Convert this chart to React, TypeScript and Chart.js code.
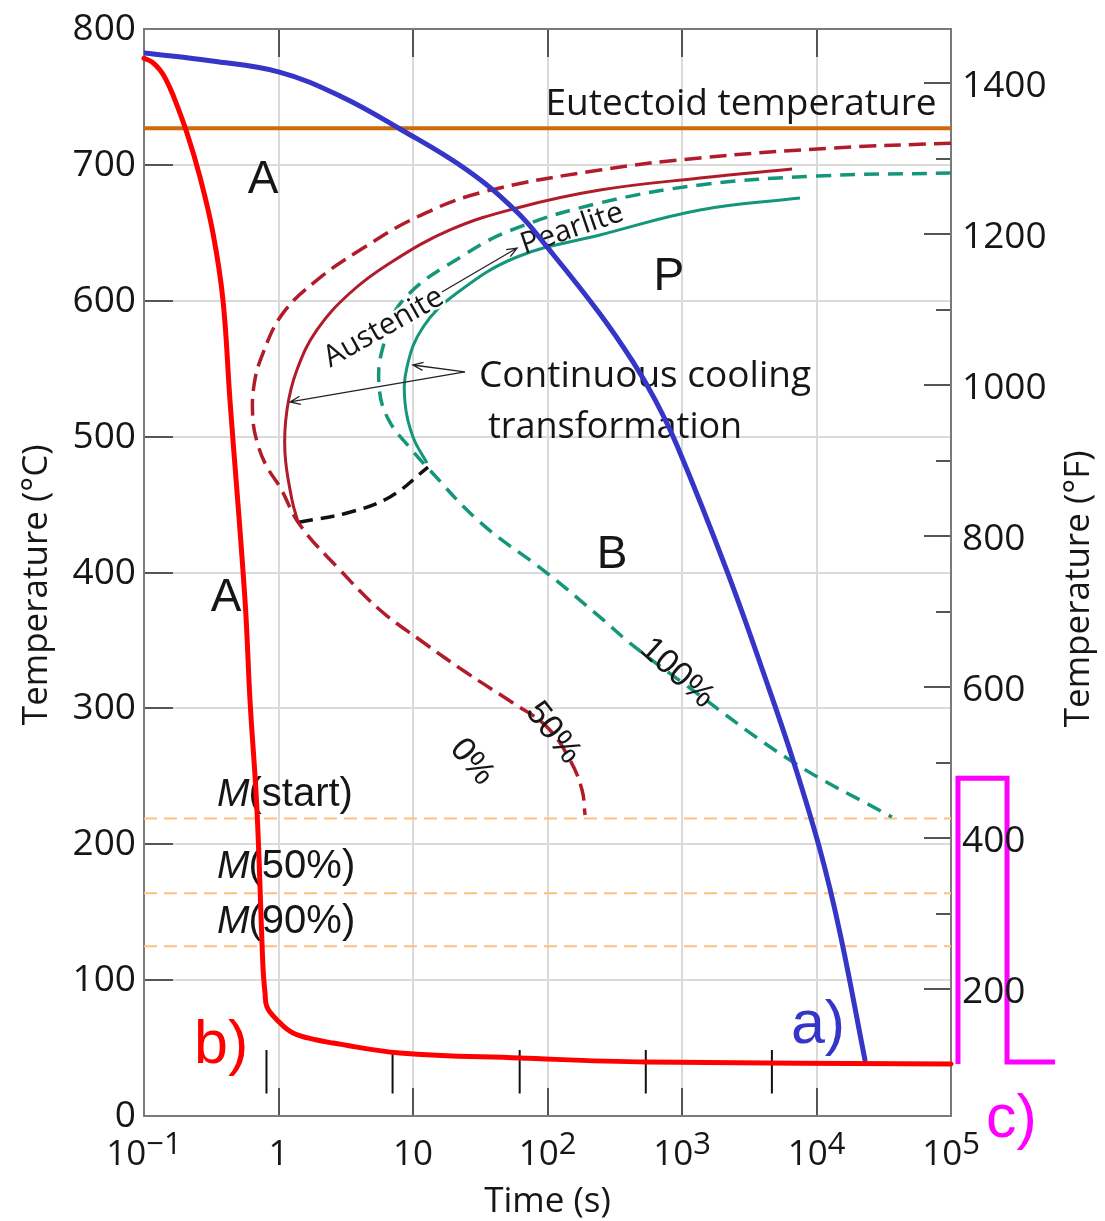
import React, { useEffect, useRef } from "react";
import { Chart, registerables } from "chart.js";

Chart.register(...registerables);

const W = 1105;
const H = 1221;

// ---------- axes ----------
const timeMin = 0.1;
const timeMax = 1e5;
const tempMin = 0;
const tempMax = 800;
const timeDecades = [0.1, 1, 10, 100, 1000, 10000, 100000];
const timeTickBase = ["10", "1", "10", "10", "10", "10", "10"];
const timeTickExp = ["\u22121", "", "", "2", "3", "4", "5"];
const celsiusTicks = [0, 100, 200, 300, 400, 500, 600, 700, 800];
const fahrenheitMajor = [200, 400, 600, 800, 1000, 1200, 1400];
const fahrenheitMinor = [100, 300, 500, 700, 900, 1100, 1300];

// ---------- curve a) (slow cooling, blue) ----------
const aTime = [0.1, 0.3206, 1.0, 2.866, 8.006, 25.2, 59.3, 99.2, 245.7, 432.3, 630, 918, 2161, 4285, 6688, 10620, 14950, 22940];
const aTemp = [782.3, 776.4, 768.4, 750.7, 726.4, 696.2, 665.3, 639.6, 590.3, 555.0, 527.2, 493.4, 401.0, 318.7, 262.0, 195.8, 134.7, 41.2];

// ---------- curve b) (quench, red) ----------
const bTime = [0.1, 0.1147, 0.1315, 0.1457, 0.1643, 0.2089, 0.2609, 0.3258, 0.3866, 0.4357, 0.5636, 0.6138, 0.6918, 0.7667, 0.7943, 0.821, 0.975, 1.282, 1.93, 2.543, 8.0, 62.5, 549, 100000, 112700];
const bTemp = [778.5, 775.7, 769.8, 762.8, 751.4, 723.3, 690.9, 649.7, 600.4, 526.9, 379.7, 306.1, 225.2, 109.6, 90.5, 80.2, 70.7, 61.1, 55.9, 53.7, 46.4, 42.7, 39.7, 38.3, 38.3];

// ---------- c) bracket (magenta) ----------
const cTime = [594000, 261000, 261000, 112700, 112700];
const cTemp = [39.7, 39.7, 248.5, 248.5, 38.3];

// ---------- transformation curves ----------
const startOuterTime = [100000, 13270, 1361, 245.6, 33.1, 10.7, 4.04, 1.93, 1.08, 0.767, 0.658, 0.646, 0.704, 0.821, 1.026, 1.445, 2.867, 5.68, 11.27, 25.2, 55.4, 99.1, 147, 180.6, 190.2];
const startOuterTemp = [716, 712.4, 705.1, 696.2, 680, 661.6, 637.3, 615.2, 590.9, 561.5, 538, 512.2, 493.8, 477.6, 462.9, 434.9, 401.8, 372.4, 350.3, 326, 304, 286.3, 262, 239.9, 221.5];

const startCctTime = [6577, 1361, 245.6, 59.3, 18.84, 6.75, 3.4, 1.93, 1.37, 1.156, 1.117, 1.26, 1.396];
const startCctTemp = [697, 690.3, 681.5, 668.3, 652.1, 627.8, 605.7, 578.5, 549, 519.6, 488, 453.4, 437.2];

const finishOuterTime = [100000, 10090, 1361, 245.6, 59.3, 25.2, 8.43, 5.98, 5.6, 6.6, 9.8, 12.7, 31.5, 99.1, 245.6, 410, 1016, 6686, 36400];
const finishOuterTemp = [694, 691.8, 685.2, 672, 653.6, 635.1, 600.5, 566, 536.5, 512.2, 490.2, 477.6, 437, 399.6, 367.2, 348.1, 318.7, 260.5, 220];

const finishCctTime = [7540, 1361, 245.6, 59.3, 21.2, 11.9, 9.02, 8.73, 10.0, 12.7];
const finishCctTemp = [675.6, 666.8, 648.4, 632.2, 605.7, 580.7, 551.2, 524.7, 499.7, 480.6];

const bainiteLinkTime = [1.42, 3.23, 6.75, 12.94];
const bainiteLinkTemp = [437, 443.8, 455.6, 477.6];

// ---------- horizontal reference temperatures ----------
const eutectoidTemp = 727;
const martensiteTemps = [219, 164, 125];
const martensiteNames = ["(start)", "(50%)", "(90%)"];
const martensiteLabelTemps = [228.2, 175.2, 134.7];

// ---------- small marks on curve b ----------
const markTimes = [0.814, 7.05, 62.1, 538, 4660];
const markTemps = [48.5, 16.5];

const pts = (xs: number[], ys: number[]) => xs.map((x, i) => ({ x, y: ys[i] }));

const RED = "#ff0000";
const BLUE = "#3535c8";
const MAGENTA = "#ff00ff";
const DARKRED = "#b01c2a";
const GREEN = "#14967a";
const ORANGE = "#cf6a0a";
const MLINE = "#ffbf7f";
const TEXT = "#161616";

const OPEN = '"Open Sans", "DejaVu Sans", sans-serif';
const ARIAL = '"Liberation Sans", Arial, sans-serif';

type Ann = { text: string; t: number; T: number; font: string; align?: CanvasTextAlign; rot?: number; base?: CanvasTextBaseline; halo?: boolean };
const annotations: Ann[] = [
  { text: "Eutectoid temperature", t: 2750, T: 736.7, font: `37px ${OPEN}` },
  { text: "A", t: 0.767, T: 679.3, font: `46px ${ARIAL}` },
  { text: "A", t: 0.407, T: 371.7, font: `46px ${ARIAL}` },
  { text: "P", t: 800, T: 607.9, font: `46px ${ARIAL}` },
  { text: "B", t: 302, T: 403.3, font: `46px ${ARIAL}` },
  { text: "Continuous cooling", t: 531, T: 536.5, font: `37px ${OPEN}` },
  { text: "transformation", t: 318, T: 499, font: `36px ${OPEN}` },
  { text: "Austenite", t: 6.52, T: 574.8, font: `30px ${OPEN}`, rot: -29.5, halo: true },
  { text: "Pearlite", t: 160, T: 646.9, font: `30px ${OPEN}`, rot: -19 },
  { text: "0%", t: 27.4, T: 260.5, font: `34px ${ARIAL}`, rot: 50, base: "middle" },
  { text: "50%", t: 110, T: 281.9, font: `34px ${ARIAL}`, rot: 52, base: "middle" },
  { text: "100%", t: 918, T: 326, font: `34px ${ARIAL}`, rot: 42, base: "middle" },
];

const arrows = [
  { from: [16.4, 606.4], to: [59.4, 638.8] },
  { from: [24.3, 547.6], to: [1.22, 525.5] },
  { from: [24.3, 547.6], to: [9.98, 552.7] },
];

const BLUE_INDEX = 2;

function drawArrow(ctx: CanvasRenderingContext2D, x1: number, y1: number, x2: number, y2: number) {
  ctx.save();
  ctx.strokeStyle = "#222";
  ctx.lineWidth = 1.3;
  ctx.beginPath();
  ctx.moveTo(x1, y1);
  ctx.lineTo(x2, y2);
  const a = Math.atan2(y2 - y1, x2 - x1);
  const L = 11;
  const s = 0.38;
  ctx.moveTo(x2 - L * Math.cos(a - s), y2 - L * Math.sin(a - s));
  ctx.lineTo(x2, y2);
  ctx.lineTo(x2 - L * Math.cos(a + s), y2 - L * Math.sin(a + s));
  ctx.stroke();
  ctx.restore();
}

const decor = {
  id: "decor",
  beforeDatasetsDraw(chart: any) {
    const { ctx, chartArea: ca, scales } = chart;
    const x = scales.x;
    const y = scales.y;
    const yF = scales.yF;
    ctx.save();
    ctx.strokeStyle = "#dadada";
    ctx.lineWidth = 2;
    ctx.beginPath();
    timeDecades.slice(1, -1).forEach((v) => {
      const px = Math.round(x.getPixelForValue(v));
      ctx.moveTo(px, ca.top);
      ctx.lineTo(px, ca.bottom);
    });
    celsiusTicks.slice(1, -1).forEach((v) => {
      const py = Math.round(y.getPixelForValue(v));
      ctx.moveTo(ca.left, py);
      ctx.lineTo(ca.right, py);
    });
    ctx.stroke();
    ctx.strokeStyle = "#555";
    ctx.lineWidth = 2;
    ctx.beginPath();
    celsiusTicks.forEach((v) => {
      const py = Math.round(y.getPixelForValue(v));
      ctx.moveTo(ca.left, py);
      ctx.lineTo(ca.left + 29, py);
    });
    timeDecades.forEach((v) => {
      const px = Math.round(x.getPixelForValue(v));
      ctx.moveTo(px, ca.top);
      ctx.lineTo(px, ca.top + 28);
      ctx.moveTo(px, ca.bottom);
      ctx.lineTo(px, ca.bottom - 28);
    });
    fahrenheitMajor.forEach((v) => {
      const py = Math.round(yF.getPixelForValue(v));
      ctx.moveTo(ca.right, py);
      ctx.lineTo(ca.right - 27, py);
    });
    fahrenheitMinor.forEach((v) => {
      const py = Math.round(yF.getPixelForValue(v));
      ctx.moveTo(ca.right, py);
      ctx.lineTo(ca.right - 15, py);
    });
    ctx.stroke();
    ctx.strokeStyle = "#7a7a7a";
    ctx.lineWidth = 2;
    ctx.strokeRect(ca.left, ca.top, ca.right - ca.left, ca.bottom - ca.top);
    ctx.restore();
  },
  beforeDatasetDraw(chart: any, args: any) {
    if (args.index !== BLUE_INDEX) return;
    const { ctx, scales } = chart;
    const x = scales.x;
    const y = scales.y;
    ctx.save();
    annotations.forEach((a) => {
      const px = x.getPixelForValue(a.t);
      const py = y.getPixelForValue(a.T);
      ctx.save();
      ctx.translate(px, py);
      if (a.rot) ctx.rotate((a.rot * Math.PI) / 180);
      ctx.font = a.font;
      ctx.textAlign = a.align || "center";
      ctx.textBaseline = a.base || "alphabetic";
      if (a.halo) {
        ctx.strokeStyle = "#fff";
        ctx.lineWidth = 5;
        ctx.lineJoin = "round";
        ctx.strokeText(a.text, 0, 0);
      }
      ctx.fillStyle = TEXT;
      ctx.fillText(a.text, 0, 0);
      ctx.restore();
    });
    arrows.forEach((ar) => {
      drawArrow(
        ctx,
        x.getPixelForValue(ar.from[0]),
        y.getPixelForValue(ar.from[1]),
        x.getPixelForValue(ar.to[0]),
        y.getPixelForValue(ar.to[1])
      );
    });
    const lx = x.getPixelForValue(0.349);
    martensiteNames.forEach((nm, i) => {
      const py = y.getPixelForValue(martensiteLabelTemps[i]);
      ctx.fillStyle = TEXT;
      ctx.textAlign = "left";
      ctx.textBaseline = "alphabetic";
      ctx.font = `italic 39px ${ARIAL}`;
      ctx.fillText("M", lx, py);
      const wM = ctx.measureText("M").width;
      ctx.font = `40px ${ARIAL}`;
      ctx.fillText(nm, lx + wM - 1, py);
    });
    ctx.restore();
  },
  afterDraw(chart: any) {
    const { ctx, chartArea: ca, scales } = chart;
    const x = scales.x;
    const y = scales.y;
    const yF = scales.yF;
    ctx.save();
    ctx.fillStyle = TEXT;
    ctx.font = `37px ${OPEN}`;
    ctx.textAlign = "right";
    ctx.textBaseline = "alphabetic";
    celsiusTicks.forEach((v) => {
      ctx.fillText(String(v), ca.left - 8, y.getPixelForValue(v) + 11);
    });
    ctx.textAlign = "left";
    fahrenheitMajor.forEach((v) => {
      ctx.fillText(String(v), ca.right + 11, yF.getPixelForValue(v) + 14);
    });
    const baseY = ca.bottom + 49;
    timeDecades.forEach((v, i) => {
      const px = x.getPixelForValue(v);
      ctx.font = `35px ${OPEN}`;
      const wb = ctx.measureText(timeTickBase[i]).width;
      ctx.font = `31px ${OPEN}`;
      const we = timeTickExp[i] ? ctx.measureText(timeTickExp[i]).width : 0;
      const start = px - (wb + we) / 2;
      ctx.textAlign = "left";
      ctx.font = `35px ${OPEN}`;
      ctx.fillText(timeTickBase[i], start, baseY);
      if (timeTickExp[i]) {
        ctx.font = `31px ${OPEN}`;
        ctx.fillText(timeTickExp[i], start + wb, baseY - 11);
      }
    });
    ctx.font = `35px ${OPEN}`;
    ctx.textAlign = "center";
    ctx.fillText("Time (s)", (ca.left + ca.right) / 2, ca.bottom + 96);
    ctx.save();
    ctx.translate(47, y.getPixelForValue(391));
    ctx.rotate(-Math.PI / 2);
    ctx.fillText("Temperature (\u00b0C)", 0, 0);
    ctx.restore();
    ctx.save();
    ctx.translate(1089, y.getPixelForValue(388));
    ctx.rotate(-Math.PI / 2);
    ctx.fillText("Temperature (\u00b0F)", 0, 0);
    ctx.restore();
    ctx.textAlign = "left";
    ctx.font = `61px ${ARIAL}`;
    ctx.fillStyle = BLUE;
    ctx.fillText("a)", x.getPixelForValue(6680) - 2, y.getPixelForValue(53.7));
    ctx.fillStyle = RED;
    ctx.fillText("b)", x.getPixelForValue(0.248) - 3, y.getPixelForValue(39));
    ctx.fillStyle = MAGENTA;
    ctx.fillText("c)", x.getPixelForValue(188800) - 2, y.getPixelForValue(-15.5));
    ctx.restore();
  },
};

function line(data: any[], color: string, width: number, extra: any = {}) {
  return {
    data,
    borderColor: color,
    backgroundColor: color,
    borderWidth: width,
    pointRadius: 0,
    pointHoverRadius: 0,
    fill: false,
    tension: 0.4,
    yAxisID: "y",
    ...extra,
  };
}

export default function App() {
  const ref = useRef<HTMLCanvasElement>(null);
  useEffect(() => {
    const canvas = ref.current;
    if (!canvas) return;
    const marks = markTimes.map((t) =>
      line(pts([t, t], markTemps), "#111", 2, { tension: 0 })
    );
    const datasets: any[] = [
      line(pts(bTime, bTemp), RED, 5, { clip: false, borderCapStyle: "round", borderJoinStyle: "round" }),
      line(pts(cTime, cTemp), MAGENTA, 5, { tension: 0, clip: false }),
      line(pts(aTime, aTemp), BLUE, 5, { borderCapStyle: "round", borderJoinStyle: "round" }),
      ...marks,
      line(pts([timeMin, timeMax], [eutectoidTemp, eutectoidTemp]), ORANGE, 4, { tension: 0 }),
      line(pts(startOuterTime, startOuterTemp), DARKRED, 3.5, { borderDash: [17, 8] }),
      line(pts(startCctTime, startCctTemp), DARKRED, 3),
      line(pts(finishOuterTime, finishOuterTemp), GREEN, 3.5, { borderDash: [15, 9] }),
      line(pts(finishCctTime, finishCctTemp), GREEN, 3),
      line(pts(bainiteLinkTime, bainiteLinkTemp), "#111", 3.5, { borderDash: [14, 8] }),
      ...martensiteTemps.map((T) =>
        line(pts([timeMin, timeMax], [T, T]), MLINE, 2, { tension: 0, borderDash: [13, 7] })
      ),
    ];
    const chart = new Chart(canvas, {
      type: "line",
      data: { datasets },
      options: {
        animation: false,
        responsive: false,
        devicePixelRatio: 1,
        events: [],
        layout: { padding: { left: 144, right: W - 951, top: 29, bottom: H - 1116 } },
        plugins: { legend: { display: false }, tooltip: { enabled: false } },
        scales: {
          x: { type: "logarithmic", min: timeMin, max: timeMax, display: false },
          y: { type: "linear", min: tempMin, max: tempMax, display: false },
          yF: { type: "linear", min: tempMin * 1.8 + 32, max: tempMax * 1.8 + 32, display: false, position: "right" },
        },
      },
      plugins: [decor],
    } as any);
    return () => chart.destroy();
  }, []);
  return (
    <div style={{ position: "absolute", left: 0, top: 0, width: W, height: H, background: "#fff" }}>
      <canvas ref={ref} width={W} height={H} style={{ display: "block", width: W, height: H }} />
    </div>
  );
}
